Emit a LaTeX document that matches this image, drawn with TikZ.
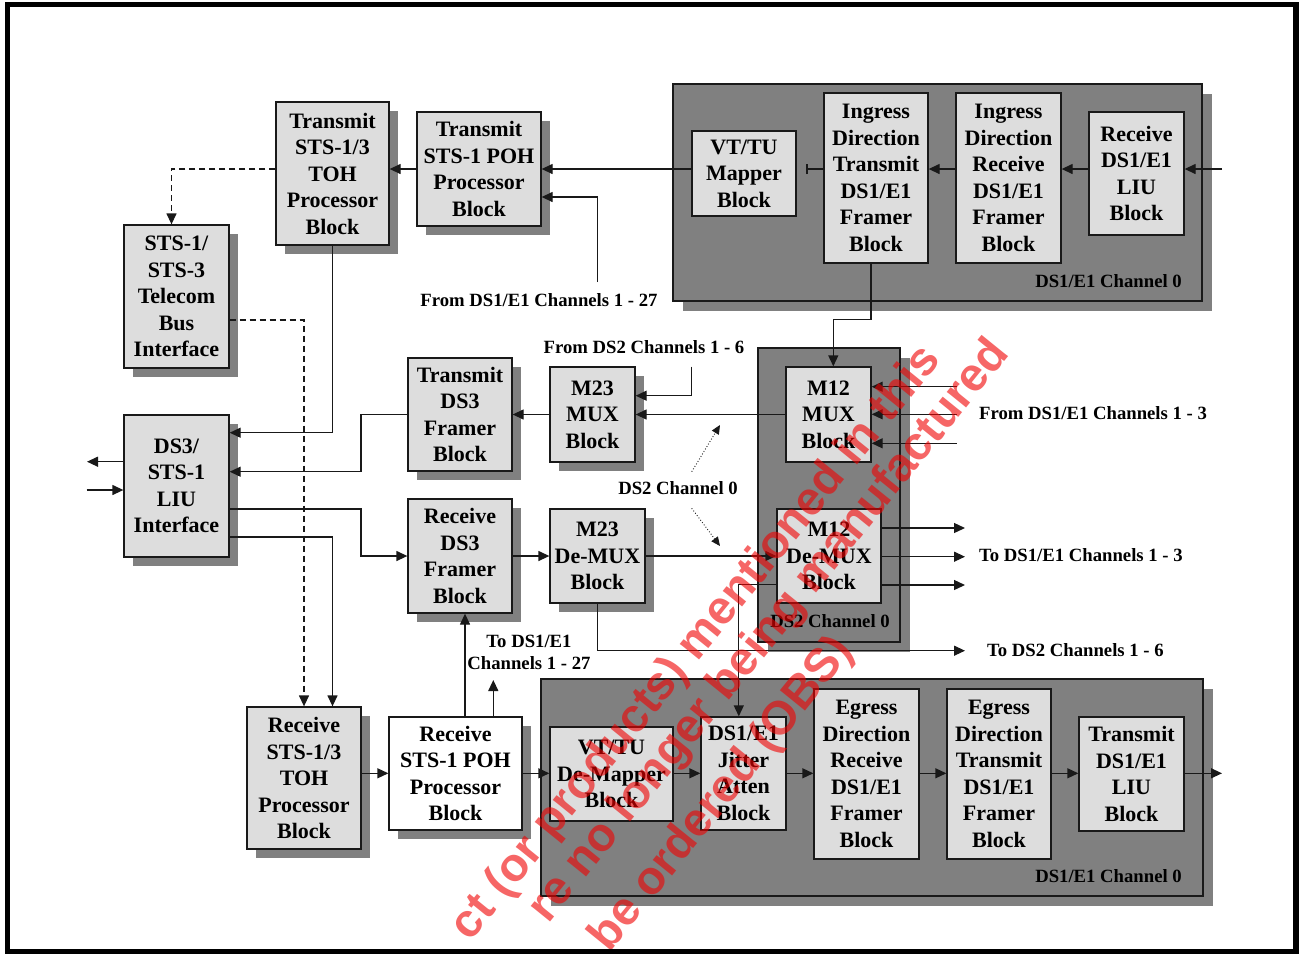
\documentclass[tikz,border=0pt]{standalone}
\usepackage{fontspec}
\setmainfont{Liberation Serif}
\newfontfamily\wmfont{Liberation Sans}
\usetikzlibrary{arrows.meta,shadows}
\definecolor{boxfill}{RGB}{221,221,221}
\definecolor{panelfill}{RGB}{128,128,128}
\definecolor{shadowgray}{RGB}{128,128,128}
\definecolor{linecol}{RGB}{25,25,25}
\definecolor{wmred}{RGB}{240,0,0}
\begin{document}
\begin{tikzpicture}[x=1pt,y=-1pt,
  blk/.style={draw=linecol, line width=1.3pt, fill=boxfill, inner sep=0pt, align=center,
    font=\fontsize{22}{26.5}\selectfont\bfseries,
    drop shadow={shadow xshift=9pt, shadow yshift=-9pt, fill=shadowgray, opacity=1}},
  wblk/.style={blk, fill=white},
  panel/.style={draw=linecol, line width=1.5pt, fill=panelfill, inner sep=0pt,
    drop shadow={shadow xshift=9.5pt, shadow yshift=-9.5pt, fill=shadowgray, opacity=1}},
  lbl/.style={font=\fontsize{18.7}{22}\selectfont\bfseries, inner sep=0pt, align=center},
  con/.style={draw=linecol, line width=1.3pt},
  arr/.style={con, -{Triangle[length=11pt,width=10pt]}},
  dsh/.style={arr, dash pattern=on 6pt off 4pt},
  dot/.style={draw=linecol, line width=0.9pt, dotted, -{Triangle[length=9pt,width=8pt]}},
  wm/.style={text=wmred, text opacity=0.6, inner sep=0pt, rotate=51,
    font=\wmfont\bfseries\fontsize{47}{47}\selectfont}
]
\useasboundingbox (0,0) rectangle (1299,954);
\fill[white] (0,0) rectangle (1299,954);

% panels
\node[panel, minimum width=529pt, minimum height=217pt] (topP) at (937.5,192.5) {};
\node[panel, minimum width=142pt, minimum height=294pt] (midP) at (829,495) {};
\node[panel, minimum width=662pt, minimum height=217pt] (botP) at (872,787.5) {};

% blocks
\node[blk, minimum width=113pt, minimum height=143pt] (TTOH) at (332.5,173.5) {Transmit\\STS-1/3\\TOH\\Processor\\Block};
\node[blk, minimum width=105pt, minimum height=143pt] (TBI) at (176.5,296.5) {STS-1/\\STS-3\\Telecom\\Bus\\Interface};
\node[blk, minimum width=124pt, minimum height=114pt] (TPOH) at (479,169) {Transmit\\STS-1 POH\\Processor\\Block};
\node[blk, minimum width=104pt, minimum height=85pt] (VTMap) at (744,173.5) {VT/TU\\Mapper\\Block};
\node[blk, minimum width=104pt, minimum height=170pt] (IngTx) at (876,178) {Ingress\\Direction\\Transmit\\DS1/E1\\Framer\\Block};
\node[blk, minimum width=105pt, minimum height=170pt] (IngRx) at (1008.5,178) {Ingress\\Direction\\Receive\\DS1/E1\\Framer\\Block};
\node[blk, minimum width=95pt, minimum height=123pt] (RxLIU) at (1136.5,173.5) {Receive\\DS1/E1\\LIU\\Block};
\node[blk, minimum width=105pt, minimum height=142pt] (LIU) at (176.5,486) {DS3/\\STS-1\\LIU\\Interface};
\node[blk, minimum width=104pt, minimum height=113pt] (TxDS3) at (460,414.5) {Transmit\\DS3\\Framer\\Block};
\node[blk, minimum width=104pt, minimum height=114pt] (RxDS3) at (460,556) {Receive\\DS3\\Framer\\Block};
\node[blk, minimum width=85pt, minimum height=95pt] (M23MUX) at (592.5,414.5) {M23\\MUX\\Block};
\node[blk, minimum width=85pt, minimum height=95pt] (M12MUX) at (828.5,414.5) {M12\\MUX\\Block};
\node[blk, minimum width=95pt, minimum height=94pt] (M23DeMUX) at (597.5,556) {M23\\De-MUX\\Block};
\node[blk, minimum width=104pt, minimum height=94pt] (M12DeMUX) at (829,556) {M12\\De-MUX\\Block};
\node[blk, minimum width=114pt, minimum height=142pt] (RTOH) at (304,778) {Receive\\STS-1/3\\TOH\\Processor\\Block};
\node[wblk, minimum width=133pt, minimum height=113pt] (RxPOH) at (455.5,773.5) {Receive\\STS-1 POH\\Processor\\Block};
\node[blk, minimum width=123pt, minimum height=94pt] (DeMap) at (611.5,774) {VT/TU\\De-Mapper\\Block};
\node[blk, minimum width=85pt, minimum height=113pt] (Jitter) at (743.5,773.5) {DS1/E1\\Jitter\\Atten\\Block};
\node[blk, minimum width=105pt, minimum height=170pt] (EgRx) at (866.5,774) {Egress\\Direction\\Receive\\DS1/E1\\Framer\\Block};
\node[blk, minimum width=104pt, minimum height=170pt] (EgTx) at (999,774) {Egress\\Direction\\Transmit\\DS1/E1\\Framer\\Block};
\node[blk, minimum width=105pt, minimum height=114pt] (TxLIU) at (1131.5,774) {Transmit\\DS1/E1\\LIU\\Block};

% labels
\node[lbl, anchor=east] (lTopCh) at (1182,281) {DS1/E1 Channel 0};
\node[lbl, anchor=east] (lBotCh) at (1182,876) {DS1/E1 Channel 0};
\node[lbl] (lMidCh) at (830,621) {DS2 Channel 0};
\node[lbl] (lFrom27) at (539,300) {From DS1/E1 Channels 1 - 27};
\node[lbl] (lFromDS2) at (644,347) {From DS2 Channels 1 - 6};
\node[lbl, anchor=west] (lFrom13) at (979,413) {From DS1/E1 Channels 1 - 3};
\node[lbl] (lDS2ch) at (678,488.5) {DS2 Channel 0};
\node[lbl, anchor=west] (lTo13) at (979,555) {To DS1/E1 Channels 1 - 3};
\node[lbl, anchor=west] (lToDS2) at (987,650) {To DS2 Channels 1 - 6};
\node[lbl] (lTo27) at (529,652) {To DS1/E1\\Channels 1 - 27};

% helper coordinates
\coordinate (inTop) at (1222,169);
\coordinate (barEnd) at (806,169);
\coordinate (from27) at (597.3,282);
\coordinate (r197) at (0,197);
\coordinate (r433) at (0,432.7);
\coordinate (r320) at (0,320);
\coordinate (r537) at (0,537);
\coordinate (r472) at (0,471.7);
\coordinate (r509) at (0,509);
\coordinate (c361) at (361,0);
\coordinate (outL) at (87,461.7);
\coordinate (inL) at (86.7,490);
\coordinate (fromDS2) at (691.7,366.7);
\coordinate (r396) at (0,395.7);
\coordinate (r319) at (0,319.3);
\coordinate (ingbot) at ([xshift=-5pt]IngTx.south);
\coordinate (m12top) at ([xshift=4.8pt]M12MUX.north);
\coordinate (f1) at (956.7,386.7);
\coordinate (f2) at (956.7,414.3);
\coordinate (f3) at (956.7,443.3);
\coordinate (t1) at (965,528);
\coordinate (t2) at (965,556.7);
\coordinate (t3) at (965,585);
\coordinate (r584) at (0,584.3);
\coordinate (jtop) at ([xshift=-4.7pt]Jitter.north);
\coordinate (toDS2) at (965,650.7);
\coordinate (c465) at (465,0);
\coordinate (toDS1) at (493.3,680);
\coordinate (r773) at (0,773.3);
\coordinate (outR) at (1222,773.3);
\coordinate (tbitop) at ([xshift=-5pt]TBI.north);
\coordinate (d1s) at (691.7,471.7);
\coordinate (d1e) at (720,425);
\coordinate (d2s) at (691.7,508.3);
\coordinate (d2e) at (720,546);

% connectors - top
\draw[arr] (inTop) -- (RxLIU.east |- inTop);
\draw[arr] (RxLIU.west |- inTop) -- (IngRx.east |- inTop);
\draw[arr] (IngRx.west |- inTop) -- (IngTx.east |- inTop);
\draw[con, -{Bar[width=10pt,line width=1.8pt]}] (IngTx.west |- inTop) -- (barEnd);
\draw[arr] (VTMap.west |- inTop) -- (TPOH.east |- inTop);
\draw[arr] (TPOH.west |- inTop) -- (TTOH.east |- inTop);
\draw[arr] (from27) |- (TPOH.east |- r197);
\draw[dsh] (TTOH.west |- inTop) -| (tbitop);
\draw[arr] (TTOH.south) |- (LIU.east |- r433);
\draw[dsh] (TBI.east |- r320) -| (RTOH.north);
\draw[arr] (LIU.east |- r537) -| (TTOH.south |- RTOH.north);
\draw[arr] (TxDS3.west) -- (c361 |- TxDS3.west) -- (c361 |- r472) -- (LIU.east |- r472);
\draw[arr] (LIU.east |- r509) -- (c361 |- r509) -- (c361 |- RxDS3.west) -- (RxDS3.west);
\draw[arr] (LIU.west |- outL) -- (outL);
\draw[arr] (inL) -- (LIU.west |- inL);
% middle
\draw[arr] (M23MUX.west) -- (TxDS3.east);
\draw[arr] (fromDS2) |- (M23MUX.east |- r396);
\draw[arr] (M12MUX.west) -- (M23MUX.east);
\draw[arr] (ingbot) |- (m12top |- r319) -- (m12top);
\draw[arr] (f1) -- (M12MUX.east |- f1);
\draw[arr] (f2) -- (M12MUX.east |- f2);
\draw[arr] (f3) -- (M12MUX.east |- f3);
\draw[arr] (RxDS3.east) -- (M23DeMUX.west);
\draw[arr] (M23DeMUX.east) -- (M12DeMUX.west);
\draw[arr] (M12DeMUX.east |- t1) -- (t1);
\draw[arr] (M12DeMUX.east |- t2) -- (t2);
\draw[arr] (M12DeMUX.east |- t3) -- (t3);
\draw[arr] (M12DeMUX.west |- r584) -| (jtop);
\draw[arr] (M23DeMUX.south) |- (toDS2);
\draw[dot] (d1s) -- (d1e);
\draw[dot] (d2s) -- (d2e);
% bottom
\draw[arr] (RTOH.east |- r773) -- (RxPOH.west |- r773);
\draw[arr] (c465 |- RxPOH.north) -- (c465 |- RxDS3.south);
\draw[arr] (toDS1 |- RxPOH.north) -- (toDS1);
\draw[arr] (RxPOH.east |- r773) -- (DeMap.west |- r773);
\draw[arr] (DeMap.east |- r773) -- (Jitter.west |- r773);
\draw[arr] (Jitter.east |- r773) -- (EgRx.west |- r773);
\draw[arr] (EgRx.east |- r773) -- (EgTx.west |- r773);
\draw[arr] (EgTx.east |- r773) -- (TxLIU.west |- r773);
\draw[arr] (TxLIU.east |- r773) -- (outR);

% watermark
\begin{scope}
\clip (0,0) rectangle (1299,954);
\node[wm, anchor=east] (wm1) at (933,352) {ct (or products) mentioned in this};
\node[wm, anchor=east] (wm2) at (1001,346) {re no longer being manufactured};
\node[wm, anchor=east] (wm3) at (845,643) {be ordered (OBS)};
\end{scope}

% frame
\draw[black, line width=5.5pt] (7.5,4.5) rectangle (1296,951.5);
\end{tikzpicture}
\end{document}
